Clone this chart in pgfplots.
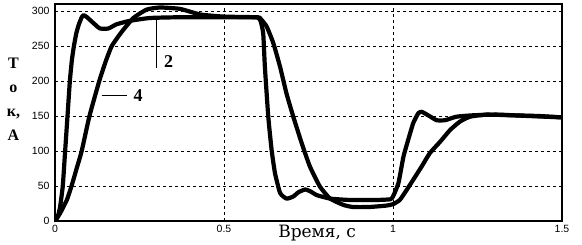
\documentclass[border=0pt]{standalone}
\usepackage{fontspec}
\setmainfont{Liberation Serif}
\newfontfamily\ticksf{Liberation Sans}
\newfontfamily\widesf{DejaVu Serif}
\usepackage{pgfplots}
\pgfplotsset{compat=1.18}
\begin{document}
\begin{tikzpicture}
\begin{axis}[
  width=507pt, height=217pt, scale only axis,
  xmin=0, xmax=1.5, ymin=0, ymax=310,
  xtick={0,0.5,1,1.5}, xticklabels={0,0.5,1,1.5},
  ytick={0,50,100,150,200,250,300},
  grid=major,
  major grid style={black, line width=0.7pt, dash pattern=on 3pt off 3pt},
  major tick length=0pt,
  axis line style={black, line width=1.2pt},
  /pgf/number format/assume math mode=true,
  tick label style={font=\ticksf\fontsize{10.5}{11}\selectfont},
  xticklabel style={yshift=-1pt},
  yticklabel style={xshift=-2pt},
  xlabel={Время, с},
  xlabel style={font=\widesf\fontsize{17}{18}\selectfont, at={(axis description cs:0.517,0)}, anchor=north, yshift=-1pt},
  ylabel={Т\\о\\к,\\А},
  ylabel style={rotate=-90, align=center, font=\bfseries\fontsize{16}{24}\selectfont, at={(axis description cs:-0.082,0.56)}, anchor=center},
]
% curve 2 (fast)
\addplot[black, line width=4.2pt, line join=round, smooth, tension=0.3] coordinates {
(0,0) (0.008,6) (0.015,20) (0.023,50) (0.030,100) (0.037,150) (0.044,200) (0.050,230) (0.056,250) (0.063,268) (0.070,280) (0.079,291) (0.085,294) (0.095,291) (0.104,287) (0.12,280) (0.133,275) (0.158,275) (0.182,281) (0.222,286) (0.281,290) (0.36,291) (0.45,291) (0.55,291) (0.598,291) (0.608,286) (0.616,268) (0.621,220) (0.631,149) (0.641,101) (0.651,68) (0.666,40) (0.685,32) (0.705,35) (0.72,41) (0.74,45) (0.757,42) (0.774,37) (0.814,32) (0.873,30) (0.95,30) (0.992,31) (1.0,35) (1.016,54) (1.031,92) (1.045,116) (1.06,140) (1.075,154) (1.085,156) (1.104,151) (1.129,144) (1.154,144) (1.188,149) (1.237,151) (1.306,152) (1.4,150) (1.5,148)
};
% curve 4 (slow)
\addplot[black, line width=4.2pt, line join=round, smooth, tension=0.3] coordinates {
(0,0) (0.015,11) (0.035,30) (0.049,50) (0.064,75) (0.079,100) (0.102,150) (0.131,200) (0.15,228) (0.168,250) (0.197,270) (0.232,290) (0.271,302) (0.311,305) (0.37,303) (0.43,295) (0.5,292) (0.6,291) (0.608,289) (0.626,278) (0.646,254) (0.666,220) (0.685,182) (0.705,149) (0.730,111) (0.754,78) (0.784,49) (0.814,32) (0.853,23) (0.882,20) (0.93,20) (0.98,22) (1.0,24) (1.02,30) (1.04,44) (1.06,59) (1.085,78) (1.109,97) (1.139,113) (1.169,130) (1.198,142) (1.228,149) (1.277,152) (1.35,151) (1.43,150) (1.5,148)
};
\draw[black, line width=0.8pt] (axis cs:0.299,287) -- (axis cs:0.299,218);
\node[font=\bfseries\fontsize{18}{18}\selectfont] at (axis cs:0.336,228) {2};
\draw[black, line width=0.8pt] (axis cs:0.138,179) -- (axis cs:0.212,179);
\node[font=\bfseries\fontsize{18}{18}\selectfont] at (axis cs:0.246,179) {4};
\end{axis}
\pgfresetboundingbox
\path[use as bounding box] (-55pt,-24pt) rectangle (527pt,221pt);
\end{tikzpicture}
\end{document}
